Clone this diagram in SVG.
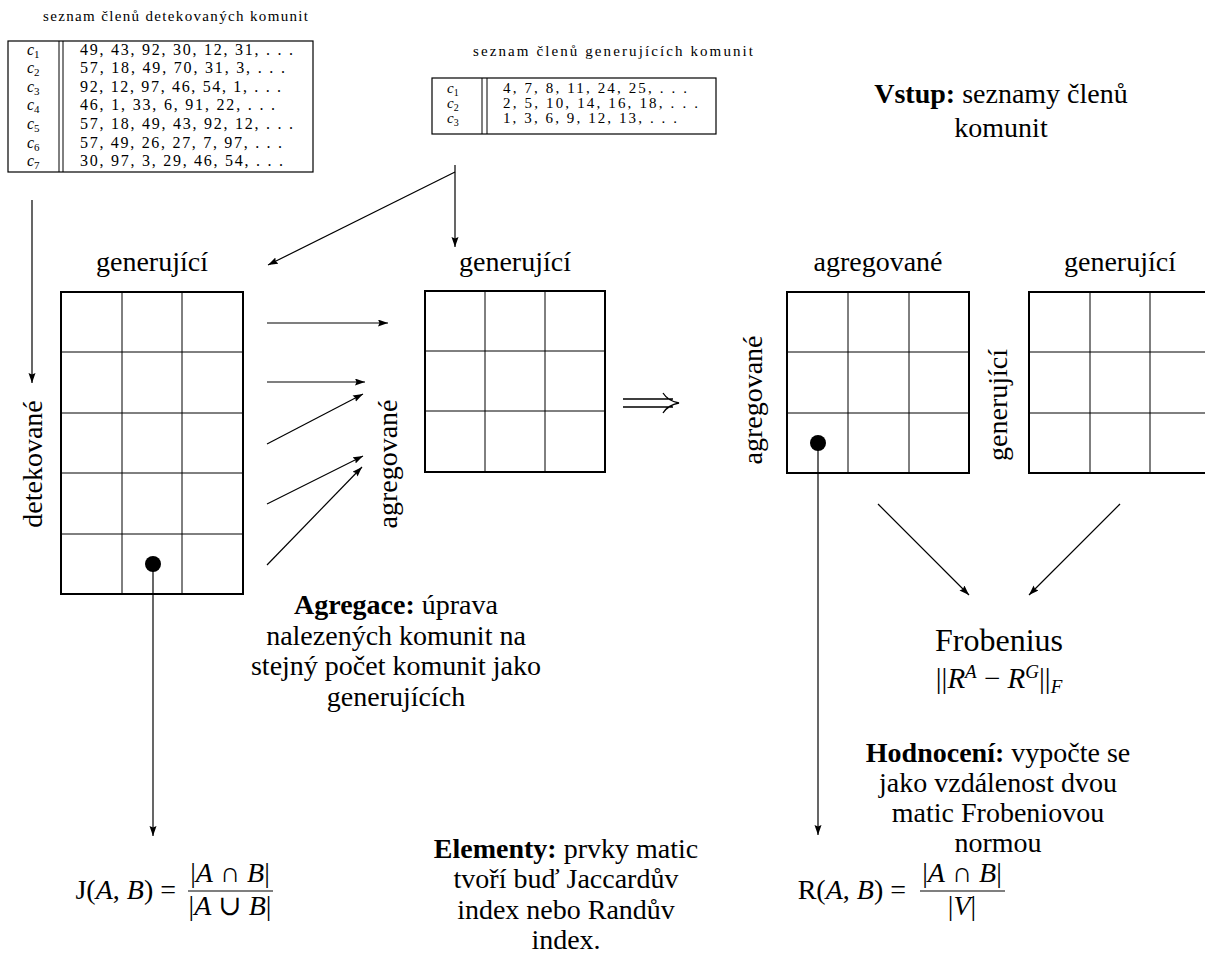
<svg xmlns="http://www.w3.org/2000/svg" width="1205" height="955" viewBox="0 0 1205 955">
<style>
text{font-family:"Liberation Serif","DejaVu Serif",serif;fill:#000}
.lbl{font-size:28px}
.big{font-size:32px}
.frm{font-size:28px}
.tiny{font-size:15px}
.tbl{font-size:16px}
.tbl2{font-size:15px}
.b{font-weight:bold}
.i{font-style:italic}
.outer{fill:none;stroke:#000;stroke-width:2}
.inner{stroke:#000;stroke-width:1}
.con{fill:none;stroke:#000;stroke-width:1.2}
.tb{fill:none;stroke:#000;stroke-width:1.2}
</style>
<defs>
<marker id="ah" markerUnits="userSpaceOnUse" markerWidth="11" markerHeight="8" refX="10" refY="3.5" orient="auto">
<path d="M0,0 L10,3.5 L0,7 L1.5,3.5 z" fill="#000"/>
</marker>
</defs>
<rect width="1205" height="955" fill="#fff"/>

<g id="table-detected">
<text class="tiny" x="43" y="21" textLength="265" lengthAdjust="spacing">seznam členů detekovaných komunit</text>
<rect class="tb" x="8" y="41" width="305" height="131"/>
<line class="inner" x1="59" y1="41" x2="59" y2="172"/>
<line class="inner" x1="63" y1="41" x2="63" y2="172"/>
<g class="tbl">
<text x="27" y="54.5"><tspan class="i">c</tspan><tspan font-size="11" dy="3">1</tspan></text>
<text x="27" y="73"><tspan class="i">c</tspan><tspan font-size="11" dy="3">2</tspan></text>
<text x="27" y="91.7"><tspan class="i">c</tspan><tspan font-size="11" dy="3">3</tspan></text>
<text x="27" y="110.3"><tspan class="i">c</tspan><tspan font-size="11" dy="3">4</tspan></text>
<text x="27" y="129"><tspan class="i">c</tspan><tspan font-size="11" dy="3">5</tspan></text>
<text x="27" y="147.5"><tspan class="i">c</tspan><tspan font-size="11" dy="3">6</tspan></text>
<text x="27" y="166"><tspan class="i">c</tspan><tspan font-size="11" dy="3">7</tspan></text>
<text x="80" y="54.5" textLength="213" lengthAdjust="spacing">49, 43, 92, 30, 12, 31, . . .</text>
<text x="80" y="73" textLength="205" lengthAdjust="spacing">57, 18, 49, 70, 31, 3, . . .</text>
<text x="80" y="91.7" textLength="201" lengthAdjust="spacing">92, 12, 97, 46, 54, 1, . . .</text>
<text x="80" y="110.3" textLength="195" lengthAdjust="spacing">46, 1, 33, 6, 91, 22, . . .</text>
<text x="80" y="129" textLength="213" lengthAdjust="spacing">57, 18, 49, 43, 92, 12, . . .</text>
<text x="80" y="147.5" textLength="202" lengthAdjust="spacing">57, 49, 26, 27, 7, 97, . . .</text>
<text x="80" y="166" textLength="203" lengthAdjust="spacing">30, 97, 3, 29, 46, 54, . . .</text>
</g>
</g>

<g id="table-generating">
<text class="tiny" x="473" y="56" textLength="280" lengthAdjust="spacing">seznam členů generujících komunit</text>
<rect class="tb" x="432" y="78" width="284" height="56"/>
<line class="inner" x1="482" y1="78" x2="482" y2="134"/>
<line class="inner" x1="487" y1="78" x2="487" y2="134"/>
<g class="tbl2">
<text x="447" y="93"><tspan class="i">c</tspan><tspan font-size="10" dy="3">1</tspan></text>
<text x="447" y="108"><tspan class="i">c</tspan><tspan font-size="10" dy="3">2</tspan></text>
<text x="447" y="123"><tspan class="i">c</tspan><tspan font-size="10" dy="3">3</tspan></text>
<text x="503" y="93" textLength="184" lengthAdjust="spacing">4, 7, 8, 11, 24, 25, . . .</text>
<text x="503" y="108" textLength="195" lengthAdjust="spacing">2, 5, 10, 14, 16, 18, . . .</text>
<text x="503" y="123" textLength="174" lengthAdjust="spacing">1, 3, 6, 9, 12, 13, . . .</text>
</g>
</g>

<g id="input-note">
<text class="lbl" x="1001" y="103" text-anchor="middle"><tspan class="b">Vstup:</tspan> seznamy členů</text>
<text class="lbl" x="1001" y="137" text-anchor="middle">komunit</text>
</g>

<g id="matrix-left">
<text class="lbl" x="152" y="271" text-anchor="middle">generující</text>
<text class="lbl" transform="translate(42,464) rotate(-90)" text-anchor="middle">detekované</text>
<line class="inner" x1="122" y1="292" x2="122" y2="594"/>
<line class="inner" x1="182" y1="292" x2="182" y2="594"/>
<line class="inner" x1="61" y1="352" x2="243" y2="352"/>
<line class="inner" x1="61" y1="413" x2="243" y2="413"/>
<line class="inner" x1="61" y1="473" x2="243" y2="473"/>
<line class="inner" x1="61" y1="534" x2="243" y2="534"/>
<rect class="outer" x="61" y="292" width="182" height="302"/>
<circle cx="153" cy="564" r="8" fill="#000"/>
</g>

<g id="matrix-middle">
<text class="lbl" x="515" y="271" text-anchor="middle">generující</text>
<text class="lbl" transform="translate(397,464) rotate(-90)" text-anchor="middle">agregované</text>
<line class="inner" x1="485" y1="291" x2="485" y2="472"/>
<line class="inner" x1="545" y1="291" x2="545" y2="472"/>
<line class="inner" x1="425" y1="351" x2="605" y2="351"/>
<line class="inner" x1="425" y1="411" x2="605" y2="411"/>
<rect class="outer" x="425" y="291" width="180" height="181"/>
</g>

<g id="aggregation-note">
<text class="lbl" x="396" y="614" text-anchor="middle"><tspan class="b">Agregace:</tspan> úprava</text>
<text class="lbl" x="396" y="645" text-anchor="middle">nalezených komunit na</text>
<text class="lbl" x="396" y="675" text-anchor="middle">stejný počet komunit jako</text>
<text class="lbl" x="396" y="706" text-anchor="middle">generujících</text>
</g>

<g id="implies">
<path d="M623,399 H673 M623,407 H673 M663,393 Q668,401 679,403 Q668,405 663,413" fill="none" stroke="#000" stroke-width="1.3"/>
</g>

<g id="matrix-aggregated">
<text class="lbl" x="878" y="271" text-anchor="middle">agregované</text>
<text class="lbl" transform="translate(762,400) rotate(-90)" text-anchor="middle">agregované</text>
<line class="inner" x1="848" y1="292" x2="848" y2="473"/>
<line class="inner" x1="909" y1="292" x2="909" y2="473"/>
<line class="inner" x1="787" y1="352" x2="969" y2="352"/>
<line class="inner" x1="787" y1="413" x2="969" y2="413"/>
<rect class="outer" x="787" y="292" width="182" height="181"/>
<circle cx="818" cy="443" r="8" fill="#000"/>
</g>

<g id="matrix-generating">
<text class="lbl" x="1120" y="271" text-anchor="middle">generující</text>
<text class="lbl" transform="translate(1007,405) rotate(-90)" text-anchor="middle">generující</text>
<line class="inner" x1="1090" y1="292" x2="1090" y2="473"/>
<line class="inner" x1="1150" y1="292" x2="1150" y2="473"/>
<line class="inner" x1="1029" y1="352" x2="1211" y2="352"/>
<line class="inner" x1="1029" y1="413" x2="1211" y2="413"/>
<rect class="outer" x="1029" y="292" width="182" height="181"/>
</g>

<g id="frobenius">
<text class="big" x="999" y="651" text-anchor="middle">Frobenius</text>
<text x="999" y="688" text-anchor="middle" font-size="29">||<tspan class="i">R</tspan><tspan class="i" font-size="19" dy="-10">A</tspan><tspan dy="10"> − </tspan><tspan class="i">R</tspan><tspan class="i" font-size="19" dy="-10">G</tspan><tspan dy="10">||</tspan><tspan class="i" font-size="19" dy="5">F</tspan></text>
</g>

<g id="evaluation-note">
<text class="lbl" x="998" y="762" text-anchor="middle"><tspan class="b">Hodnocení:</tspan> vypočte se</text>
<text class="lbl" x="998" y="792" text-anchor="middle">jako vzdálenost dvou</text>
<text class="lbl" x="998" y="822" text-anchor="middle">matic Frobeniovou</text>
<text class="lbl" x="998" y="852" text-anchor="middle">normou</text>
</g>

<g id="elements-note">
<text class="lbl" x="566" y="858" text-anchor="middle"><tspan class="b">Elementy:</tspan> prvky matic</text>
<text class="lbl" x="566" y="888" text-anchor="middle">tvoří buď Jaccardův</text>
<text class="lbl" x="566" y="919" text-anchor="middle">index nebo Randův</text>
<text class="lbl" x="566" y="949" text-anchor="middle">index.</text>
</g>

<g id="jaccard">
<text class="frm" x="176" y="899" text-anchor="end">J(<tspan class="i">A</tspan>, <tspan class="i">B</tspan>) =</text>
<text class="frm" x="230" y="882" text-anchor="middle">|<tspan class="i">A</tspan> ∩ <tspan class="i">B</tspan>|</text>
<line x1="188" y1="891" x2="273" y2="891" stroke="#000" stroke-width="1.2"/>
<text class="frm" x="230" y="915" text-anchor="middle">|<tspan class="i">A</tspan> ∪ <tspan class="i">B</tspan>|</text>
</g>

<g id="rand">
<text class="frm" x="906" y="899" text-anchor="end">R(<tspan class="i">A</tspan>, <tspan class="i">B</tspan>) =</text>
<text class="frm" x="962" y="882" text-anchor="middle">|<tspan class="i">A</tspan> ∩ <tspan class="i">B</tspan>|</text>
<line x1="920" y1="891" x2="1005" y2="891" stroke="#000" stroke-width="1.2"/>
<text class="frm" x="962" y="915" text-anchor="middle">|<tspan class="i">V</tspan>|</text>
</g>

<g id="connectors">
<line class="con" x1="32" y1="200" x2="32" y2="383" marker-end="url(#ah)"/>
<line class="con" x1="455" y1="165" x2="455" y2="247" marker-end="url(#ah)"/>
<line class="con" x1="455" y1="172" x2="268" y2="265" marker-end="url(#ah)"/>
<line class="con" x1="267" y1="323" x2="388" y2="323" marker-end="url(#ah)"/>
<line class="con" x1="267" y1="382" x2="365" y2="382" marker-end="url(#ah)"/>
<line class="con" x1="267" y1="444" x2="363" y2="394" marker-end="url(#ah)"/>
<line class="con" x1="267" y1="504" x2="363" y2="456" marker-end="url(#ah)"/>
<line class="con" x1="267" y1="565" x2="362" y2="467" marker-end="url(#ah)"/>
<line class="con" x1="878" y1="504" x2="969" y2="595" marker-end="url(#ah)"/>
<line class="con" x1="1120" y1="504" x2="1029" y2="595" marker-end="url(#ah)"/>
<line class="con" x1="153" y1="564" x2="153" y2="836" marker-end="url(#ah)"/>
<line class="con" x1="818" y1="443" x2="818" y2="835" marker-end="url(#ah)"/>
</g>
</svg>
